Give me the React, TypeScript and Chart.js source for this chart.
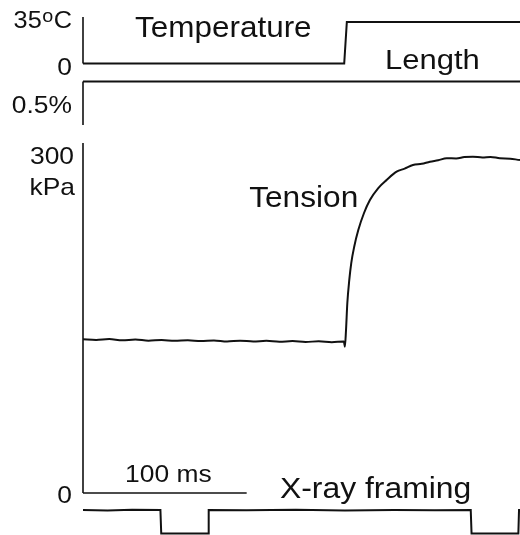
import React, { useEffect, useRef } from "react";
import { Chart, registerables } from "chart.js";
Chart.register(...registerables);

// ---- Data (time in ms) ----
const temperatureTime = [0, 159.6, 161.2, 270];
const temperatureC = [0, 0, 35, 35];

const lengthTime = [0, 270];
const lengthPct = [0, 0];

const tensionTime = [
  0, 8, 16, 24, 32, 40, 48, 56, 64, 72, 80, 88, 96, 104, 112, 120, 128, 136, 144, 152, 159.4,
  160.0, 160.7, 161.5, 162.7, 163.9, 165.7, 168.2, 171.7, 175.3, 180.4, 185.5, 191.6, 196.5,
  201.6, 207, 212, 217, 222.2, 228, 233, 238.2, 244, 249, 254.7, 261, 267, 270,
];
const tensionKPa = [
  131.8, 131.2, 131.9, 130.9, 131.5, 130.6, 131.2, 130.4, 131.0, 130.2, 130.8, 129.9, 130.6, 129.8,
  130.4, 129.6, 130.2, 129.5, 130.0, 129.3, 129.8,
  125.4, 139.7, 162.9, 182.6, 197.1, 211.1, 225.4, 240, 251.1, 261.4, 268.3, 275.4, 278.0,
  281.1, 282.2, 284.0, 285.2, 286.9, 286.8, 288.0, 288.3, 287.6, 288.1, 286.9, 286.6, 285.4, 285.2,
];

const framingTime = [0, 15, 30, 47.3, 47.8, 76.4, 76.8, 100, 130, 160, 190, 215, 236.9, 237.4, 266, 266.4, 270];
const framingLevel = [1, 0.98, 1.01, 1, 0, 0, 1, 0.99, 1.01, 0.98, 1.0, 0.99, 1, 0, 0, 1, 1];

// calibration bars
const tempBarC = [0, 39.2];
const lengthBarPct = [0, -0.5];
const tensionBarKPa = [0, 300];
const timeBarMs = [0, 100];

const W = 520;
const H = 535;
const LEFT = 83;
const X_MAX = 267;
const STRETCH = 1.1;

function fitAxis(v1: number, p1: number, v2: number, p2: number) {
  const k = (p1 - p2) / (v2 - v1);
  return { min: v1 - (H - p1) / k, max: v2 + p2 / k };
}

const pts = (xs: number[], ys: number[]) => xs.map((x, i) => ({ x, y: ys[i] }));

const INK = "#111111";
const FONT = "'Liberation Sans', Arial, Helvetica, sans-serif";

function drawText(ctx: CanvasRenderingContext2D, text: string, x: number, y: number, size: number, align: CanvasTextAlign) {
  ctx.save();
  ctx.font = `${size}px ${FONT}`;
  ctx.textAlign = align;
  ctx.translate(x, y);
  ctx.scale(STRETCH, 1);
  ctx.fillText(text, 0, 0);
  ctx.restore();
}

function textWidth(ctx: CanvasRenderingContext2D, text: string, size: number) {
  ctx.save();
  ctx.font = `${size}px ${FONT}`;
  const w = ctx.measureText(text).width * STRETCH;
  ctx.restore();
  return w;
}

const labelPlugin = {
  id: "traceLabels",
  afterDraw(chart: any) {
    const { ctx, scales } = chart;
    const xs = scales.x;
    const yT = scales.yTemp;
    const yL = scales.yLen;
    const yF = scales.yTen;
    const yX = scales.yXray;
    ctx.save();
    ctx.fillStyle = INK;
    ctx.textBaseline = "alphabetic";

    const inner = [
      { t: "Temperature", x: 31.8, y: yT.getPixelForValue(22.6), size: 28.6 },
      { t: "Length", x: 184.5, y: yL.getPixelForValue(0.14), size: 28.2 },
      { t: "Tension", x: 101.5, y: yF.getPixelForValue(245.4), size: 28.8 },
      { t: "100 ms", x: 25.7, y: yF.getPixelForValue(9.7), size: 24 },
      { t: "X-ray framing", x: 120.3, y: yX.getPixelForValue(1.5), size: 29 },
    ];
    for (const l of inner) drawText(ctx, l.t, xs.getPixelForValue(l.x), l.y, l.size, "left");

    const rx = chart.chartArea.left - 11;
    ctx.textBaseline = "middle";
    // 35ºC with raised o
    const yc = yT.getPixelForValue(35) - 0.5;
    const wC = textWidth(ctx, "C", 23);
    drawText(ctx, "C", rx, yc, 23, "right");
    const wo = textWidth(ctx, "o", 18);
    drawText(ctx, "o", rx - wC - 0.5, yc - 4.5, 18, "right");
    drawText(ctx, "35", rx - wC - wo - 1, yc, 23, "right");

    drawText(ctx, "0", rx, yT.getPixelForValue(0) + 4.5, 24, "right");
    drawText(ctx, "0.5%", rx, yL.getPixelForValue(-0.25) + 3, 24, "right");
    drawText(ctx, "300", rx + 2, yF.getPixelForValue(300) + 14, 24, "right");
    drawText(ctx, "kPa", rx + 3, yF.getPixelForValue(300) + 45, 24, "right");
    drawText(ctx, "0", rx, yF.getPixelForValue(0) + 3, 24, "right");
    ctx.restore();
  },
};

export default function App() {
  const ref = useRef<HTMLCanvasElement>(null);
  useEffect(() => {
    if (!ref.current) return;
    const line = (data: any[], yAxisID: string, width = 2, smooth = false) => ({
      data,
      yAxisID,
      borderColor: INK,
      borderWidth: width,
      pointRadius: 0,
      fill: false,
      clip: false as any,
      cubicInterpolationMode: smooth ? ("monotone" as const) : ("default" as const),
      tension: 0,
    });
    const chart = new Chart(ref.current, {
      type: "line",
      data: {
        datasets: [
          line(pts(temperatureTime, temperatureC), "yTemp"),
          line(pts(lengthTime, lengthPct), "yLen"),
          line(pts(tensionTime, tensionKPa), "yTen", 2, true),
          line(pts(framingTime, framingLevel), "yXray"),
          line(pts([0, 0], tempBarC), "yTemp", 1.6),
          line(pts([0, 0], lengthBarPct), "yLen", 1.6),
          line(pts([0, 0], tensionBarKPa), "yTen", 1.6),
          line(pts(timeBarMs, [0, 0]), "yTen", 1.6),
        ],
      },
      options: {
        animation: false,
        responsive: false,
        events: [],
        layout: { padding: { left: LEFT, right: 0, top: 0, bottom: 0 } },
        plugins: { legend: { display: false }, tooltip: { enabled: false } },
        scales: {
          x: { type: "linear", min: 0, max: X_MAX, display: false },
          yTemp: { type: "linear", display: false, ...fitAxis(0, 63.5, 35, 22) },
          yLen: { type: "linear", display: false, ...fitAxis(-0.5, 125, 0, 81.5) },
          yTen: { type: "linear", display: false, ...fitAxis(0, 493, 300, 143) },
          yXray: { type: "linear", display: false, ...fitAxis(0, 533.5, 1, 510) },
        },
      },
      plugins: [labelPlugin],
    });
    return () => chart.destroy();
  }, []);
  return (
    <div style={{ position: "absolute", left: 0, top: 0, width: W, height: H, background: "#fff" }}>
      <canvas ref={ref} width={W} height={H} style={{ display: "block" }} />
    </div>
  );
}
